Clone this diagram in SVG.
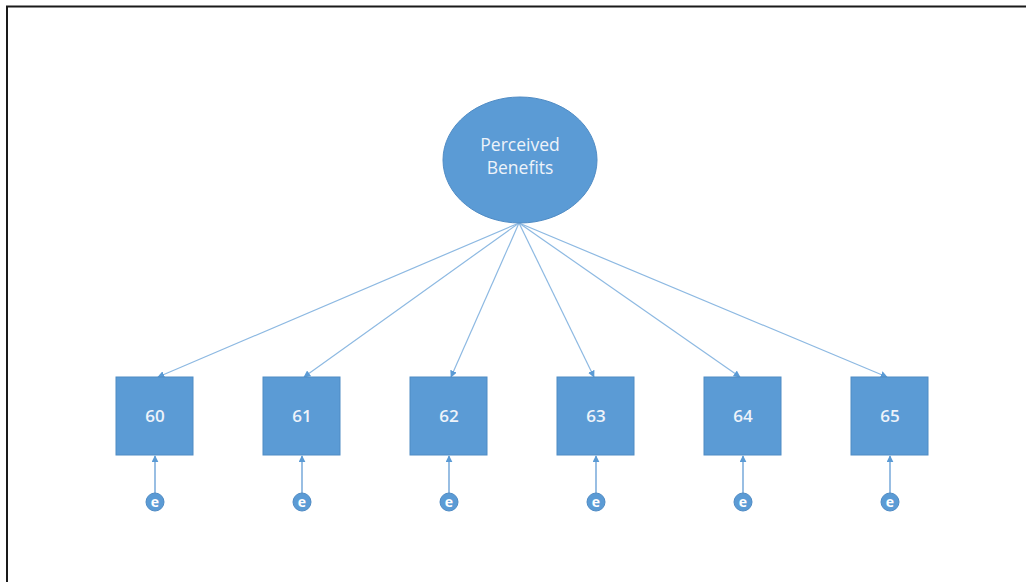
<svg xmlns="http://www.w3.org/2000/svg" width="1026" height="582" viewBox="0 0 1026 582">
<style>
.node{fill:#5B9BD5;stroke:#4F8BC4;stroke-width:1}
.lbl{font-family:"Open Sans","Liberation Sans",sans-serif;font-size:17.5px;fill:#EEF3FA;text-anchor:middle}
.num{font-family:"Open Sans","Liberation Sans",sans-serif;font-size:17px;font-weight:600;fill:#EEF3FA;text-anchor:middle}
.elbl{font-family:"Open Sans","Liberation Sans",sans-serif;font-size:14px;font-weight:bold;fill:#FFFFFF;text-anchor:middle}
.conn{stroke:#8DB9E2;stroke-width:1.2;fill:none;marker-end:url(#ah)}
.econ{stroke:#7FAEDC;stroke-width:1.6;fill:none;marker-end:url(#ah)}
</style>
<defs>
<marker id="ah" viewBox="0 0 10 10" refX="9" refY="5" markerWidth="7" markerHeight="7" markerUnits="userSpaceOnUse" orient="auto">
<path d="M0,0 L10,5 L0,10 z" fill="#5B9BD5"/>
</marker>
</defs>
<rect width="1026" height="582" fill="#FFFFFF"/>
<path d="M7,582 V6.5 H1026" fill="none" stroke="#1A1A1A" stroke-width="2"/>
<g id="connectors">
<line class="conn" x1="519" y1="223" x2="158" y2="377"/>
<line class="conn" x1="519" y1="223" x2="304" y2="377"/>
<line class="conn" x1="519" y1="223" x2="451" y2="377"/>
<line class="conn" x1="519" y1="223" x2="594" y2="377"/>
<line class="conn" x1="519" y1="223" x2="740" y2="377"/>
<line class="conn" x1="519" y1="223" x2="887" y2="377"/>
<line class="econ" x1="155" y1="493" x2="155" y2="456"/>
<line class="econ" x1="302" y1="493" x2="302" y2="456"/>
<line class="econ" x1="449" y1="493" x2="449" y2="456"/>
<line class="econ" x1="596" y1="493" x2="596" y2="456"/>
<line class="econ" x1="743" y1="493" x2="743" y2="456"/>
<line class="econ" x1="890" y1="493" x2="890" y2="456"/>
</g>
<g id="perceived-benefits">
<ellipse class="node" cx="520" cy="160" rx="77" ry="63"/>
<text class="lbl" x="520" y="151">Perceived</text>
<text class="lbl" x="520" y="174">Benefits</text>
</g>
<g id="item-60"><rect class="node" x="116" y="377" width="77" height="78"/><text class="num" x="155" y="422">60</text></g>
<g id="item-61"><rect class="node" x="263" y="377" width="77" height="78"/><text class="num" x="302" y="422">61</text></g>
<g id="item-62"><rect class="node" x="410" y="377" width="77" height="78"/><text class="num" x="449" y="422">62</text></g>
<g id="item-63"><rect class="node" x="557" y="377" width="77" height="78"/><text class="num" x="596" y="422">63</text></g>
<g id="item-64"><rect class="node" x="704" y="377" width="77" height="78"/><text class="num" x="743" y="422">64</text></g>
<g id="item-65"><rect class="node" x="851" y="377" width="77" height="78"/><text class="num" x="890" y="422">65</text></g>
<g id="e-60"><circle class="node" cx="155" cy="502" r="9"/><text class="elbl" x="155" y="507">e</text></g>
<g id="e-61"><circle class="node" cx="302" cy="502" r="9"/><text class="elbl" x="302" y="507">e</text></g>
<g id="e-62"><circle class="node" cx="449" cy="502" r="9"/><text class="elbl" x="449" y="507">e</text></g>
<g id="e-63"><circle class="node" cx="596" cy="502" r="9"/><text class="elbl" x="596" y="507">e</text></g>
<g id="e-64"><circle class="node" cx="743" cy="502" r="9"/><text class="elbl" x="743" y="507">e</text></g>
<g id="e-65"><circle class="node" cx="890" cy="502" r="9"/><text class="elbl" x="890" y="507">e</text></g>
</svg>
